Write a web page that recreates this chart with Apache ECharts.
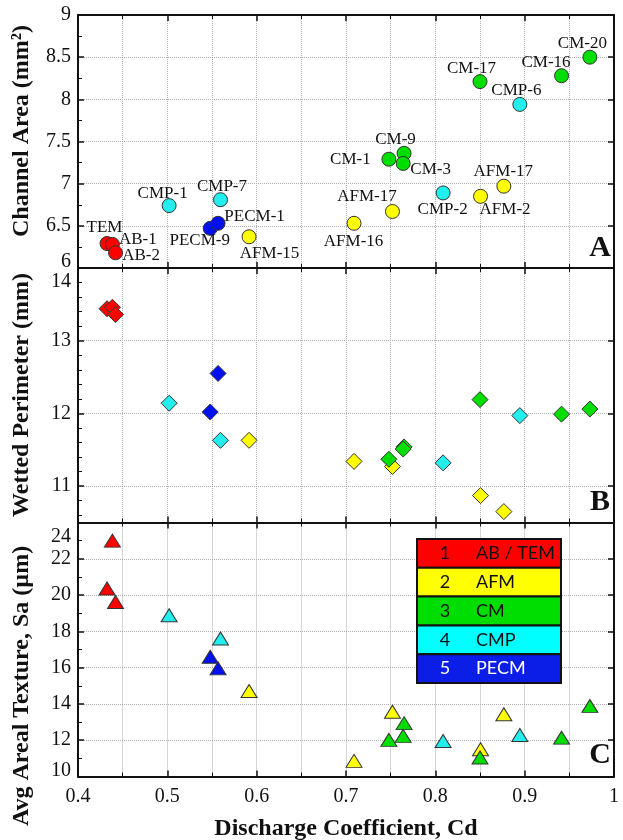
<!DOCTYPE html>
<html>
<head>
<meta charset="utf-8">
<script src="https://cdn.jsdelivr.net/npm/echarts@6/dist/echarts.min.js"></script>
<style>
  html, body { margin: 0; padding: 0; background: #fff; }
  #chart { width: 623px; height: 840px; }
</style>
</head>
<body>
<div id="chart"></div>
<script>
// 样品名称、分组（1 AB/TEM, 2 AFM, 3 CM, 4 CMP, 5 PECM）
const names = ['TEM', 'AB-1', 'AB-2', 'CMP-1', 'CMP-7', 'PECM-9', 'PECM-1', 'AFM-15', 'AFM-16', 'AFM-17',
               'CM-1', 'CM-9', 'CM-3', 'CMP-2', 'CM-17', 'AFM-2', 'AFM-17', 'CMP-6', 'CM-16', 'CM-20'];
const groups = [1, 1, 1, 4, 4, 5, 5, 2, 2, 2, 3, 3, 3, 4, 3, 2, 2, 4, 3, 3];

// 流量系数 Cd
const cd = [0.4325, 0.4385, 0.442, 0.502, 0.5595, 0.548, 0.5568, 0.5915, 0.709, 0.752,
            0.748, 0.765, 0.764, 0.8087, 0.850, 0.8506, 0.8767, 0.8946, 0.9413, 0.973];
// 通道面积 (mm²)
const area = [6.29, 6.28, 6.18, 6.74, 6.81, 6.47, 6.53, 6.37, 6.53, 6.67,
              7.29, 7.36, 7.24, 6.89, 8.21, 6.85, 6.97, 7.94, 8.28, 8.50];
// 湿周 (mm)
const perimeter = [13.44, 13.46, 13.36, 12.14, 11.63, 12.02, 12.55, 11.63, 11.34, 11.27,
                   11.37, 11.54, 11.51, 11.32, 12.19, 10.87, 10.65, 11.97, 11.99, 12.06];
// 平均面纹理 Sa (µm)
const texture = [20.36, 23.0, 19.62, 18.89, 17.61, 16.6, 15.96, 14.71, 10.86, 13.57,
                 12.02, 12.94, 12.24, 11.96, 11.05, 11.5, 13.43, 12.29, 12.14, 13.89];

const groupNames = ['AB / TEM', 'AFM', 'CM', 'CMP', 'PECM'];

// 样式（不是数据）
const groupColors = ['#ff0000', '#ffff00', '#00dd00', '#22eeee', '#0010ee'];
const legendColors = ['#ff0000', '#ffff00', '#00dd00', '#00ffff', '#0a1ee8'];
const legendText = ['#111', '#111', '#111', '#111', '#fff'];
// A 图中标签中心相对点中心的偏移 (px)
const labelOffsets = [[-2, -16], [26, -4], [26, 3], [-6, -12], [2, -13], [-10, 13], [37, -6], [21, 17], [0, 19], [-25, -14],
                      [-38, 1], [-8, -13], [28, 7], [0, 17], [-8, -13], [25, 14], [0, -14], [-3, -13], [-15, -13], [-7, -13]];

const SERIF = '"Liberation Serif", "Times New Roman", serif';
const GRID_LEFT = 78, GRID_W = 536;
const panels = [
    {top: 15, height: 253, values: area, symbol: 'circle', size: 14,
     y: {min: 6, max: 9, interval: 0.5, minorSplit: 2, hi: null, lo: 6}},
    {top: 268, height: 254.5, values: perimeter, symbol: 'diamond', size: 16,
     y: {min: 10.5, max: 14, splitNumber: 3, minorSplit: 5, hi: 14, lo: null}},
    {top: 522.5, height: 254, values: texture, symbol: 'triangle', size: [16, 13],
     y: {min: 10, max: 24, interval: 2, minorSplit: 2, hi: 24, lo: 10}}
];

const gridLine = {show: true, lineStyle: {color: '#b0b0b0', type: 'dotted', width: 1}};

function xAxisFor(i, position) {
    const isBottom = position === 'bottom';
    const showLabel = isBottom && i === 2;
    return {
        type: 'value', gridIndex: i, position: position,
        min: 0.4, max: 1.0, interval: 0.1,
        axisLine: {show: true, onZero: false, lineStyle: {color: '#111', width: 2}},
        axisTick: {show: true, inside: true, length: 6, lineStyle: {color: '#111', width: 1.5}},
        minorTick: {show: true, splitNumber: 2, length: 4, lineStyle: {color: '#111', width: 1}},
        splitLine: isBottom ? gridLine : {show: false},
        minorSplitLine: isBottom ? gridLine : {show: false},
        axisLabel: {
            show: showLabel, color: '#111', fontFamily: SERIF, fontSize: 20, margin: 10,
            formatter: v => String(Math.round(v * 10) / 10)
        },
        name: showLabel ? 'Discharge Coefficient, Cd' : '',
        nameLocation: 'middle', nameGap: 40,
        nameTextStyle: {fontFamily: SERIF, fontSize: 24, fontWeight: 'bold', color: '#111'}
    };
}

function yAxisFor(i, position) {
    const p = panels[i].y;
    const isLeft = position === 'left';
    const ax = {
        type: 'value', gridIndex: i, position: position,
        min: p.min, max: p.max,
        axisLine: {show: true, onZero: false, lineStyle: {color: '#111', width: 2}},
        axisTick: {show: true, inside: true, length: 6, lineStyle: {color: '#111', width: 1.5}},
        minorTick: {show: isLeft, splitNumber: p.minorSplit, length: 4, lineStyle: {color: '#111', width: 1}},
        splitLine: isLeft ? gridLine : {show: false},
        axisLabel: {
            show: isLeft, color: '#111', fontFamily: SERIF, fontSize: 20, margin: 7,
            showMinLabel: p.min % 1 === 0,
            formatter: function (v) {
                if (v === p.hi) return '{dn|' + v + '}';
                if (v === p.lo) return '{up|' + v + '}';
                return String(v);
            },
            rich: {
                dn: {padding: [28, 0, 0, 0], fontFamily: SERIF, fontSize: 20, color: '#111'},
                up: {padding: [0, 0, 12, 0], fontFamily: SERIF, fontSize: 20, color: '#111'}
            }
        }
    };
    if (p.interval) ax.interval = p.interval;
    if (p.splitNumber) ax.splitNumber = p.splitNumber;
    return ax;
}

const grids = [], xAxes = [], yAxes = [], series = [];
panels.forEach((pn, i) => {
    grids.push({left: GRID_LEFT, width: GRID_W, top: pn.top, height: pn.height, outerBoundsMode: 'none'});
    xAxes.push(xAxisFor(i, 'bottom'), xAxisFor(i, 'top'));
    yAxes.push(yAxisFor(i, 'left'), yAxisFor(i, 'right'));
    groupNames.forEach((gName, g) => {
        const data = [];
        cd.forEach((x, k) => {
            if (groups[k] !== g + 1) return;
            const item = {value: [x, pn.values[k]], name: names[k]};
            if (i === 0) {
                // 标签位置：相对符号包围盒左上角
                const r = pn.size / 2;
                item.label = {position: [r + labelOffsets[k][0], r + labelOffsets[k][1]]};
            }
            data.push(item);
        });
        series.push({
            type: 'scatter', name: gName,
            xAxisIndex: i * 2, yAxisIndex: i * 2,
            symbol: pn.symbol, symbolSize: pn.size,
            itemStyle: {color: groupColors[g], borderColor: '#333', borderWidth: 1, opacity: 1},
            label: {
                show: i === 0, formatter: '{b}', align: 'center', verticalAlign: 'middle',
                color: '#111', fontFamily: SERIF, fontSize: 17
            },
            emphasis: {disabled: true},
            data: data
        });
    });
});

// 图例表格 + 面板字母 + 纵轴标题
const graphic = [];
const LX = 417, LY = 539, LW = 144, LH = 28.8;
groupNames.forEach((gName, g) => {
    graphic.push({
        type: 'rect', shape: {x: LX, y: LY + g * LH, width: LW, height: LH},
        style: {fill: legendColors[g], stroke: '#111', lineWidth: 2}, z: 100
    });
    graphic.push({
        type: 'text', x: 445, y: LY + g * LH + LH / 2, z: 101,
        style: {text: String(g + 1), fill: legendText[g], font: '18px Lato, "Open Sans", sans-serif',
                textAlign: 'center', textVerticalAlign: 'middle'}
    });
    graphic.push({
        type: 'text', x: 476, y: LY + g * LH + LH / 2, z: 101,
        style: {text: gName, fill: legendText[g], font: '18px Lato, "Open Sans", sans-serif',
                textAlign: 'left', textVerticalAlign: 'middle'}
    });
});
const panelLetters = ['A', 'B', 'C'];
const letterY = [248, 502, 755];
panelLetters.forEach((t, i) => {
    graphic.push({
        type: 'text', x: 600, y: letterY[i], z: 101,
        style: {text: t, fill: '#111', font: 'bold 30px ' + SERIF, textAlign: 'center', textVerticalAlign: 'middle'}
    });
});
const yTitles = ['Channel Area (mm²)', 'Wetted Perimeter (mm)', 'Avg Areal Texture, Sa (µm)'];
const yTitleCenter = [131, 395, 686];
yTitles.forEach((t, i) => {
    graphic.push({
        type: 'text', x: 22, y: yTitleCenter[i], rotation: Math.PI / 2, z: 101,
        style: {text: t, fill: '#111', font: 'bold 24px ' + SERIF, textAlign: 'center', textVerticalAlign: 'middle'}
    });
});

const chart = echarts.init(document.getElementById('chart'), null, {renderer: 'canvas'});
chart.setOption({
    backgroundColor: '#fff',
    animation: false,
    grid: grids,
    xAxis: xAxes,
    yAxis: yAxes,
    series: series,
    graphic: graphic
});
</script>
</body>
</html>
